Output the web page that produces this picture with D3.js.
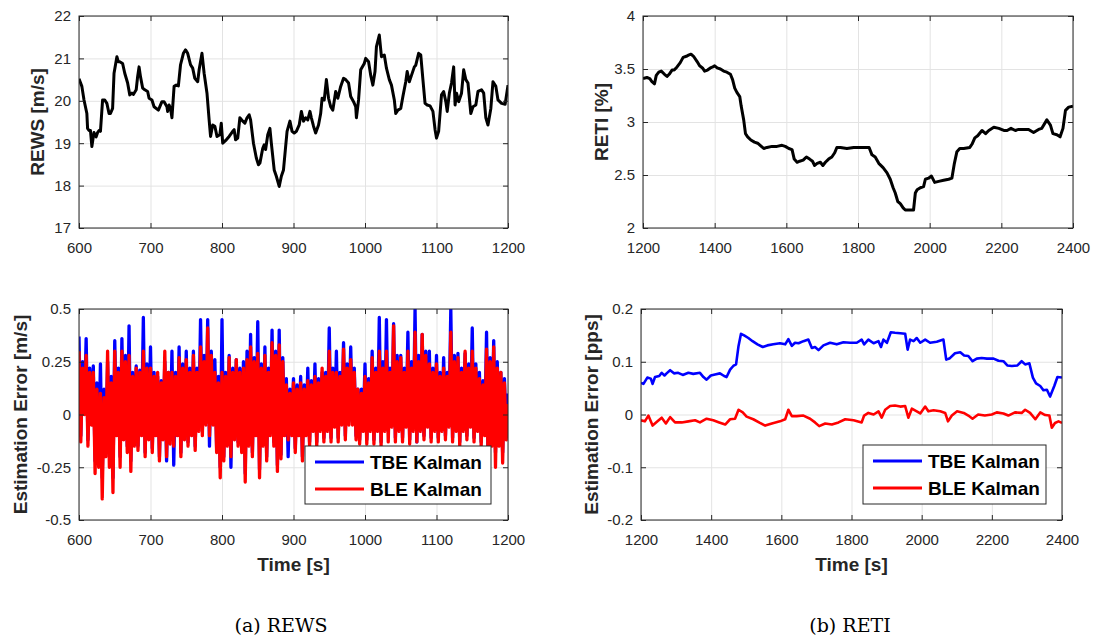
<!DOCTYPE html>
<html>
<head>
<meta charset="utf-8">
<script src="https://cdn.jsdelivr.net/npm/d3@7"></script>
<style>
  body { margin: 0; background: #fff; }
  svg { display: block; }
</style>
</head>
<body>
<svg id="fig" width="1094" height="637"></svg>
<script>
// REWS [m/s] over time (600-1200 s)
var rewsSeries = [[600,20.52],[604,20.34],[607,20.02],[611,19.7],[612,19.35],[614,19.3],[616,19.3],[618,18.92],[620,19.15],[621,19.25],[624,19.15],[626,19.25],[628,19.3],[630,19.28],[633,20.02],[636,20.02],[639,19.94],[642,19.7],[644,19.7],[647,19.82],[649,20.65],[653,21.04],[655,20.92],[657,20.92],[661,20.88],[664,20.65],[668,20.42],[671,20.14],[674,20.18],[676,20.15],[680,20.26],[682,20.57],[684,20.8],[686,20.57],[689,20.3],[692,20.26],[696,20.22],[698,20.06],[702,20.02],[705,19.86],[711,19.78],[716,19.98],[719,19.98],[723,19.86],[724,19.75],[726,19.9],[728,19.82],[730,19.6],[733,20.34],[736,20.37],[739,20.35],[742,20.85],[746,21.12],[749,21.2],[752,21.12],[756,20.85],[759,20.77],[762,20.53],[766,20.45],[768,20.73],[772,21.12],[775,20.65],[779,20.18],[782,19.55],[784,19.16],[787,19.43],[790,19.4],[793,19.16],[797,19.2],[799,19.47],[801,19.0],[806,19.08],[810,19.16],[815,19.28],[817,19.32],[819,19.08],[822,19.12],[825,19.6],[829,19.52],[832,19.47],[835,19.6],[838,19.67],[840,19.55],[844,19.0],[848,18.65],[851,18.49],[853,18.53],[857,18.88],[859,18.96],[861,18.85],[864,19.2],[867,19.35],[869,19.0],[873,18.37],[876,18.22],[880,17.98],[883,18.22],[886,18.37],[889,18.92],[891,19.28],[895,19.52],[898,19.28],[901,19.24],[904,19.28],[908,19.43],[911,19.75],[914,19.52],[917,19.6],[920,19.55],[923,19.75],[925,19.6],[928,19.4],[931,19.24],[935,19.43],[938,19.7],[940,20.06],[943,20.02],[946,20.5],[949,20.06],[952,19.86],[955,19.78],[959,20.22],[962,20.06],[966,20.34],[970,20.53],[973,20.5],[977,20.42],[980,20.1],[984,19.98],[987,19.86],[988,19.6],[991,20.02],[994,20.73],[999,20.88],[1001,21.0],[1005,20.92],[1008,20.6],[1011,20.37],[1014,20.69],[1016,21.28],[1020,21.55],[1023,21.04],[1027,21.08],[1030,20.77],[1034,20.5],[1037,20.37],[1041,20.02],[1043,19.7],[1046,19.78],[1050,19.82],[1053,20.1],[1057,20.45],[1059,20.69],[1062,20.45],[1065,20.6],[1069,20.8],[1071,20.84],[1075,21.12],[1078,21.08],[1081,20.5],[1084,19.94],[1087,19.9],[1091,19.88],[1095,19.75],[1098,19.32],[1100,19.12],[1103,19.28],[1107,20.14],[1110,20.22],[1113,19.98],[1115,19.75],[1118,20.18],[1121,20.42],[1124,20.8],[1126,19.9],[1128,20.18],[1131,19.98],[1135,20.18],[1138,20.73],[1141,20.5],[1144,20.42],[1148,19.7],[1151,19.86],[1155,19.9],[1158,20.22],[1163,20.26],[1166,20.18],[1169,19.6],[1172,19.43],[1176,19.82],[1179,20.45],[1183,20.34],[1186,20.02],[1191,19.94],[1196,19.92],[1200,20.37]]

// RETI [%] over time (1200-2400 s)
var retiSeries = [[1200,3.41],[1211,3.42],[1219,3.41],[1225,3.38],[1232,3.36],[1237,3.44],[1244,3.47],[1251,3.48],[1260,3.45],[1267,3.43],[1273,3.45],[1281,3.49],[1287,3.49],[1295,3.52],[1304,3.56],[1312,3.61],[1321,3.62],[1327,3.63],[1334,3.64],[1341,3.62],[1351,3.57],[1358,3.53],[1366,3.51],[1372,3.48],[1380,3.49],[1388,3.51],[1395,3.52],[1400,3.53],[1407,3.51],[1416,3.5],[1425,3.48],[1434,3.47],[1444,3.45],[1450,3.4],[1456,3.32],[1462,3.28],[1470,3.24],[1474,3.15],[1481,3.02],[1486,2.89],[1492,2.86],[1501,2.83],[1511,2.81],[1520,2.8],[1527,2.78],[1537,2.75],[1546,2.76],[1560,2.77],[1574,2.77],[1588,2.78],[1597,2.77],[1607,2.75],[1616,2.74],[1622,2.65],[1630,2.62],[1637,2.63],[1647,2.64],[1656,2.67],[1665,2.65],[1673,2.63],[1679,2.59],[1686,2.61],[1695,2.62],[1702,2.59],[1709,2.62],[1718,2.65],[1727,2.67],[1735,2.71],[1741,2.76],[1751,2.76],[1769,2.75],[1788,2.76],[1807,2.76],[1831,2.76],[1839,2.69],[1848,2.67],[1858,2.61],[1870,2.57],[1881,2.52],[1890,2.46],[1898,2.38],[1904,2.33],[1911,2.25],[1918,2.23],[1926,2.19],[1932,2.17],[1955,2.17],[1960,2.33],[1965,2.36],[1974,2.38],[1983,2.39],[1988,2.46],[1997,2.47],[2005,2.49],[2014,2.43],[2025,2.44],[2039,2.45],[2053,2.46],[2062,2.47],[2069,2.61],[2076,2.72],[2084,2.75],[2095,2.75],[2112,2.76],[2118,2.79],[2126,2.85],[2134,2.87],[2146,2.92],[2156,2.89],[2165,2.92],[2179,2.95],[2193,2.94],[2207,2.92],[2216,2.92],[2227,2.94],[2239,2.92],[2248,2.93],[2262,2.93],[2276,2.93],[2290,2.9],[2304,2.93],[2313,2.94],[2327,3.02],[2337,2.97],[2344,2.89],[2355,2.88],[2364,2.86],[2372,2.94],[2379,3.11],[2388,3.14],[2400,3.15]]

// REWS estimation error [m/s], sampled every 2.5 s from 600 s
var rewsErrTbe = [0.37,-0.10,0.25,0.02, 0.36,-0.12,0.22,-0.03, 0.23,-0.22,0.15,-0.18, 0.24,-0.30,0.12,-0.15, 0.25,-0.20,0.18,-0.30, 0.35,-0.08,0.22,-0.20, 0.36,-0.10,0.28,-0.15, 0.42,-0.22,0.20,-0.12, 0.23,-0.15,0.21,-0.08, 0.46,-0.18,0.24,-0.10, 0.32,-0.16,0.20,-0.08, 0.18,-0.20,0.16,-0.10, 0.25,-0.22,0.20,-0.12, 0.30,-0.24,0.20,-0.08, 0.32,-0.18,0.24,-0.10, 0.30,-0.13,0.22,-0.08, 0.30,-0.15,0.22,-0.06, 0.45,-0.08,0.28,-0.03, 0.45,-0.15,0.30,-0.03, 0.26,-0.16,0.18,-0.25, 0.45,-0.20,0.20,-0.13, 0.28,-0.25,0.22,-0.10, 0.26,-0.13,0.22,-0.16, 0.25,-0.28,0.30,-0.13, 0.38,-0.18,0.27,-0.08, 0.44,-0.26,0.24,-0.13, 0.32,-0.20,0.22,-0.08, 0.40,-0.13,0.30,-0.24, 0.40,-0.19,0.27,-0.08, 0.17,-0.20,0.12,-0.08, 0.17,-0.16,0.14,-0.08, 0.18,-0.20,0.14,-0.08, 0.22,-0.13,0.16,-0.06, 0.24,-0.13,0.17,-0.06, 0.20,-0.11,0.20,-0.06, 0.41,-0.11,0.22,-0.04, 0.30,-0.11,0.20,-0.03, 0.34,-0.10,0.24,-0.03, 0.32,-0.04,0.22,-0.10, 0.12,-0.12,0.12,-0.06, 0.24,-0.12,0.17,-0.06, 0.30,-0.12,0.22,-0.06, 0.46,-0.13,0.25,-0.06, 0.45,-0.08,0.22,-0.04, 0.43,-0.11,0.28,-0.06, 0.28,-0.11,0.22,-0.04, 0.39,-0.12,0.25,-0.06, 0.50,-0.13,0.28,-0.06, 0.38,-0.10,0.30,-0.04, 0.30,-0.11,0.22,-0.06, 0.28,-0.11,0.20,-0.06, 0.27,-0.10,0.20,-0.04, 0.50,-0.11,0.28,-0.06, 0.29,-0.13,0.22,-0.06, 0.29,-0.10,0.24,-0.04, 0.41,-0.11,0.24,-0.06, 0.20,-0.13,0.16,-0.08, 0.39,-0.28,0.27,-0.13, 0.35,-0.18,0.25,-0.13, 0.20,-0.18,0.17,-0.10, 0.10]
var rewsErrBle = [0.30,-0.13,0.22,0.00, 0.28,-0.15,0.20,-0.05, 0.20,-0.28,0.12,-0.25, 0.10,-0.40,0.08,-0.20, 0.30,-0.25,0.15,-0.37, 0.30,-0.10,0.20,-0.25, 0.30,-0.12,0.25,-0.18, 0.28,-0.27,0.18,-0.15, 0.22,-0.17,0.20,-0.10, 0.30,-0.20,0.22,-0.12, 0.22,-0.18,0.18,-0.10, 0.20,-0.22,0.15,-0.12, 0.30,-0.20,0.20,-0.14, 0.20,-0.15,0.18,-0.10, 0.27,-0.20,0.22,-0.12, 0.26,-0.15,0.20,-0.10, 0.28,-0.17,0.20,-0.08, 0.32,-0.10,0.25,-0.05, 0.41,-0.10,0.28,-0.05, 0.20,-0.18,0.15,-0.30, 0.20,-0.22,0.18,-0.15, 0.27,-0.20,0.20,-0.12, 0.26,-0.15,0.20,-0.18, 0.22,-0.32,0.26,-0.15, 0.32,-0.20,0.25,-0.10, 0.29,-0.30,0.22,-0.15, 0.28,-0.22,0.20,-0.10, 0.34,-0.15,0.28,-0.27, 0.33,-0.21,0.25,-0.10, 0.14,-0.12,0.10,-0.10, 0.15,-0.18,0.12,-0.10, 0.15,-0.22,0.12,-0.10, 0.16,-0.15,0.14,-0.08, 0.18,-0.15,0.15,-0.08, 0.22,-0.13,0.18,-0.08, 0.30,-0.13,0.20,-0.06, 0.20,-0.13,0.18,-0.05, 0.31,-0.12,0.22,-0.05, 0.26,-0.05,0.20,-0.12, 0.12,-0.14,0.10,-0.08, 0.18,-0.14,0.15,-0.08, 0.27,-0.14,0.20,-0.08, 0.30,-0.15,0.22,-0.08, 0.30,-0.13,0.20,-0.06, 0.42,-0.13,0.25,-0.08, 0.27,-0.13,0.20,-0.06, 0.30,-0.14,0.22,-0.08, 0.39,-0.13,0.25,-0.08, 0.38,-0.12,0.28,-0.06, 0.24,-0.13,0.20,-0.08, 0.24,-0.13,0.18,-0.08, 0.22,-0.12,0.18,-0.06, 0.39,-0.13,0.25,-0.08, 0.27,-0.15,0.20,-0.08, 0.30,-0.12,0.22,-0.06, 0.30,-0.13,0.22,-0.08, 0.17,-0.15,0.14,-0.10, 0.31,-0.32,0.25,-0.15, 0.32,-0.25,0.22,-0.15, 0.20,-0.23,0.15,-0.12, 0.05]
var rewsErrTime = d3.range(600, 1200.01, 2.5)

// RETI estimation error [pps]
var retiErrTbe = [[1200,0.06],[1207,0.058],[1218,0.07],[1228,0.068],[1233,0.058],[1240,0.071],[1252,0.073],[1259,0.079],[1267,0.074],[1273,0.078],[1283,0.084],[1294,0.078],[1306,0.079],[1319,0.075],[1335,0.079],[1349,0.077],[1368,0.079],[1378,0.071],[1387,0.066],[1399,0.074],[1411,0.076],[1425,0.078],[1437,0.073],[1444,0.071],[1454,0.085],[1463,0.092],[1471,0.095],[1478,0.13],[1485,0.153],[1494,0.15],[1506,0.145],[1518,0.139],[1532,0.133],[1547,0.128],[1560,0.131],[1577,0.133],[1596,0.135],[1611,0.133],[1620,0.143],[1630,0.13],[1639,0.136],[1649,0.135],[1663,0.139],[1677,0.142],[1687,0.126],[1696,0.128],[1706,0.122],[1720,0.131],[1739,0.136],[1758,0.133],[1777,0.137],[1796,0.136],[1815,0.136],[1829,0.142],[1836,0.133],[1848,0.142],[1863,0.135],[1877,0.139],[1884,0.128],[1891,0.142],[1901,0.136],[1912,0.156],[1924,0.155],[1939,0.154],[1953,0.153],[1960,0.123],[1967,0.142],[1977,0.139],[1986,0.145],[1996,0.136],[2010,0.142],[2024,0.136],[2043,0.138],[2062,0.142],[2070,0.104],[2079,0.106],[2095,0.116],[2110,0.118],[2121,0.112],[2133,0.111],[2145,0.101],[2157,0.106],[2171,0.107],[2186,0.106],[2205,0.106],[2219,0.102],[2233,0.101],[2244,0.093],[2257,0.092],[2273,0.093],[2285,0.101],[2295,0.095],[2307,0.097],[2317,0.07],[2326,0.059],[2338,0.054],[2347,0.046],[2357,0.047],[2366,0.034],[2378,0.054],[2387,0.071],[2400,0.07]]
var retiErrBle = [[1200,-0.011],[1211,-0.013],[1221,-0.002],[1233,-0.021],[1247,-0.013],[1259,-0.006],[1271,-0.017],[1283,-0.005],[1297,-0.015],[1316,-0.015],[1335,-0.013],[1354,-0.011],[1368,-0.015],[1387,-0.008],[1406,-0.011],[1423,-0.015],[1440,-0.019],[1454,-0.009],[1468,-0.008],[1478,0.009],[1490,0.004],[1501,-0.004],[1520,-0.009],[1539,-0.016],[1554,-0.021],[1573,-0.017],[1596,-0.013],[1611,-0.009],[1620,0.009],[1630,-0.003],[1644,-0.003],[1663,-0.002],[1682,-0.008],[1696,-0.015],[1708,-0.022],[1725,-0.017],[1744,-0.019],[1763,-0.015],[1782,-0.009],[1806,-0.011],[1829,-0.015],[1836,-0.002],[1848,0.003],[1863,0],[1877,0.006],[1886,-0.006],[1896,0.009],[1910,0.016],[1924,0.017],[1939,0.015],[1953,0.016],[1962,-0.006],[1972,0.011],[1986,0.006],[1996,0.002],[2010,0.015],[2019,0.006],[2034,0.008],[2053,0.006],[2067,0.003],[2075,-0.013],[2086,-0.002],[2101,0.006],[2120,0.003],[2133,-0.002],[2145,-0.008],[2161,0],[2180,-0.002],[2200,0],[2214,0.004],[2233,0.002],[2247,-0.002],[2266,0.004],[2285,0.003],[2295,0.009],[2309,0.003],[2324,-0.009],[2338,0.004],[2352,-0.001],[2364,-0.002],[2371,-0.025],[2380,-0.016],[2390,-0.013],[2400,-0.016]]

// tick values / labels
var rewsTimeTicks = [600, 700, 800, 900, 1000, 1100, 1200]
var retiTimeTicks = [1200, 1400, 1600, 1800, 2000, 2200, 2400]
var rewsTicks = [17, 18, 19, 20, 21, 22]
var retiTicks = [2, 2.5, 3, 3.5, 4]
var rewsErrTicks = [-0.5, -0.25, 0, 0.25, 0.5]
var rewsErrTickLabels = ['-0.5', '-0.25', '0', '0.25', '0.5']
var retiErrTicks = [-0.2, -0.1, 0, 0.1, 0.2]
var retiErrTickLabels = ['-0.2', '-0.1', '0', '0.1', '0.2']
var legendNames = ['TBE Kalman', 'BLE Kalman']
var captions = ['(a) REWS', '(b) RETI']

var axisColor = '#262626'
var gridColor = '#e3e3e3'
var sansFont = '"Liberation Sans", Arial, Helvetica, sans-serif'

var svg = d3.select('#fig')
var clipId = 0

function panel(p) {
  var x = d3.scaleLinear().domain(p.xDomain).range([p.l, p.r])
  var y = d3.scaleLinear().domain(p.yDomain).range([p.b, p.t])
  var g = svg.append('g')
  var w = p.r - p.l
  var h = p.b - p.t

  // grid
  g.append('g')
    .attr('transform', 'translate(0,' + p.b + ')')
    .call(d3.axisBottom(x).tickValues(p.xTicks).tickSize(-h).tickFormat(''))
    .call(s => { s.select('.domain').remove(); s.selectAll('line').attr('stroke', gridColor) })
  g.append('g')
    .attr('transform', 'translate(' + p.l + ',0)')
    .call(d3.axisLeft(y).tickValues(p.yTicks).tickSize(-w).tickFormat(''))
    .call(s => { s.select('.domain').remove(); s.selectAll('line').attr('stroke', gridColor) })

  // lines
  clipId++
  svg.append('clipPath').attr('id', 'clip' + clipId)
    .append('rect').attr('x', p.l).attr('y', p.t).attr('width', w).attr('height', h)
  var lines = g.append('g').attr('clip-path', 'url(#clip' + clipId + ')')
  p.series.forEach(function (s) {
    var line = d3.line().x(d => x(d[0])).y(d => y(d[1]))
    lines.append('path')
      .attr('d', line(s.data))
      .attr('fill', 'none')
      .attr('stroke', s.color)
      .attr('stroke-width', s.width)
      .attr('stroke-linejoin', 'round')
  })

  // axes (ticks pointing inward on all four sides)
  var fmtY = p.yLabels ? (d, i) => p.yLabels[i] : d3.format('')
  var bottom = g.append('g').attr('transform', 'translate(0,' + p.b + ')')
    .call(d3.axisBottom(x).tickValues(p.xTicks).tickSizeInner(-5).tickSizeOuter(0).tickPadding(14).tickFormat(d3.format('')))
  var left = g.append('g').attr('transform', 'translate(' + p.l + ',0)')
    .call(d3.axisLeft(y).tickValues(p.yTicks).tickSizeInner(-5).tickSizeOuter(0).tickPadding(8).tickFormat(fmtY))
  var top = g.append('g').attr('transform', 'translate(0,' + p.t + ')')
    .call(d3.axisTop(x).tickValues(p.xTicks).tickSizeInner(-5).tickSizeOuter(0).tickFormat(''))
  var right = g.append('g').attr('transform', 'translate(' + p.r + ',0)')
    .call(d3.axisRight(y).tickValues(p.yTicks).tickSizeInner(-5).tickSizeOuter(0).tickFormat(''))
  ;[bottom, left, top, right].forEach(function (a) {
    a.select('.domain').remove()
    a.selectAll('line').attr('stroke', axisColor)
    a.selectAll('text').attr('fill', axisColor).style('font-family', sansFont).style('font-size', '15px')
  })
  g.append('rect')
    .attr('x', p.l).attr('y', p.t).attr('width', w).attr('height', h)
    .attr('fill', 'none').attr('stroke', axisColor).attr('stroke-width', 1)

  // axis labels
  g.append('text')
    .attr('transform', 'translate(' + p.yLabelX + ',' + (p.t + h / 2) + ') rotate(-90)')
    .attr('text-anchor', 'middle')
    .attr('dy', '0.35em')
    .attr('fill', axisColor)
    .style('font-family', sansFont).style('font-size', '19px').style('font-weight', 'bold')
    .text(p.yLabel)
  if (p.xLabel) {
    g.append('text')
      .attr('x', p.l + w / 2).attr('y', p.b + 51)
      .attr('text-anchor', 'middle')
      .attr('fill', axisColor)
      .style('font-family', sansFont).style('font-size', '19px').style('font-weight', 'bold')
      .text(p.xLabel)
  }

  // legend
  if (p.legend) {
    var L = p.legend
    var lg = g.append('g')
    lg.append('rect')
      .attr('x', L.x).attr('y', L.y).attr('width', L.w).attr('height', L.h)
      .attr('fill', '#fff').attr('stroke', axisColor).attr('stroke-width', 1)
    p.series.forEach(function (s, i) {
      var cy = L.y + 16 + i * 27
      lg.append('line')
        .attr('x1', L.x + 10).attr('x2', L.x + 59).attr('y1', cy).attr('y2', cy)
        .attr('stroke', s.color).attr('stroke-width', 3)
      lg.append('text')
        .attr('x', L.x + 65).attr('y', cy + 7)
        .attr('fill', '#000')
        .style('font-family', sansFont).style('font-size', '19px').style('font-weight', 'bold')
        .text(legendNames[i])
    })
  }
}

panel({
  l: 79, r: 508, t: 16, b: 228,
  xDomain: [600, 1200], xTicks: rewsTimeTicks,
  yDomain: [17, 22], yTicks: rewsTicks,
  yLabel: 'REWS [m/s]', yLabelX: 37,
  series: [{ data: rewsSeries, color: '#000', width: 3 }]
})

panel({
  l: 643, r: 1073, t: 16, b: 228,
  xDomain: [1200, 2400], xTicks: retiTimeTicks,
  yDomain: [2, 4], yTicks: retiTicks,
  yLabel: 'RETI [%]', yLabelX: 601,
  series: [{ data: retiSeries, color: '#000', width: 3 }]
})

panel({
  l: 79, r: 508, t: 309, b: 520,
  xDomain: [600, 1200], xTicks: rewsTimeTicks,
  yDomain: [-0.5, 0.5], yTicks: rewsErrTicks, yLabels: rewsErrTickLabels,
  yLabel: 'Estimation Error [m/s]', yLabelX: 20, xLabel: 'Time [s]',
  series: [
    { data: rewsErrTime.map((t, i) => [t, rewsErrTbe[i]]), color: '#0000ff', width: 3.3 },
    { data: rewsErrTime.map((t, i) => [t, rewsErrBle[i]]), color: '#ff0000', width: 3.3 }
  ],
  legend: { x: 305, y: 446, w: 186, h: 58 }
})

panel({
  l: 641, r: 1062, t: 309, b: 520,
  xDomain: [1200, 2400], xTicks: retiTimeTicks,
  yDomain: [-0.2, 0.2], yTicks: retiErrTicks, yLabels: retiErrTickLabels,
  yLabel: 'Estimation Error [pps]', yLabelX: 591, xLabel: 'Time [s]',
  series: [
    { data: retiErrTbe, color: '#0000ff', width: 2.6 },
    { data: retiErrBle, color: '#ff0000', width: 2.6 }
  ],
  legend: { x: 863, y: 445, w: 183, h: 59 }
})

// sub-figure captions
svg.selectAll('text.caption')
  .data(captions)
  .enter().append('text')
  .attr('class', 'caption')
  .attr('x', (d, i) => i === 0 ? 281 : 850)
  .attr('y', 632)
  .attr('text-anchor', 'middle')
  .attr('fill', '#000')
  .style('font-family', '"DejaVu Serif", "Liberation Serif", serif')
  .style('font-size', '19px')
  .text(d => d)
</script>
</body>
</html>
